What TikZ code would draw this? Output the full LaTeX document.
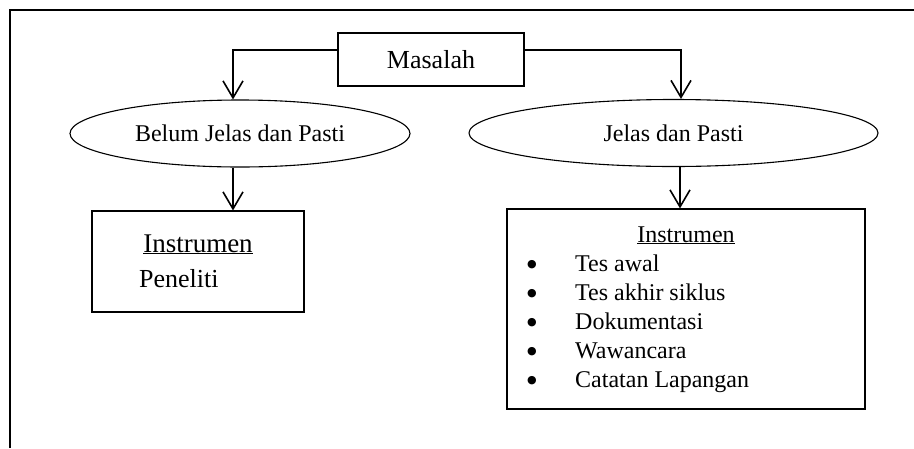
\documentclass[tikz,border=0pt]{standalone}
\usepackage{fontspec}
\setmainfont{Liberation Serif}
\newfontfamily\simbol{DejaVu Sans}
\usetikzlibrary{shapes.geometric,arrows.meta}
\tikzset{
  arr/.style={line width=1.6pt,-{Straight Barb[length=17pt,width=20pt,line width=1.6pt]}},
  kotak/.style={draw,line width=1.1pt,inner sep=0pt},
  elips/.style={draw,ellipse,line width=1.1pt,inner sep=0pt,minimum height=67pt},
  teks/.style={inner sep=0pt,anchor=base}
}
\begin{document}
\begin{tikzpicture}[x=1pt,y=-1pt]
\useasboundingbox (0,0) rectangle (914,448);
% bingkai luar
\draw[line width=2pt] (10,448) -- (10,10) -- (914,10);
% masalah
\node[kotak,minimum width=186pt,minimum height=53pt,font=\fontsize{26}{30}\selectfont] (masalah) at (431,59.5) {Masalah};
\node[elips,minimum width=340pt,font=\fontsize{24}{28}\selectfont] (belum) at (240,133.5) {Belum Jelas dan Pasti};
\node[elips,minimum width=409pt,font=\fontsize{24}{28}\selectfont] (jelas) at (673.5,133) {Jelas dan Pasti};
% instrumen
\node[kotak,minimum width=212pt,minimum height=101pt] (instA) at (198,261.5) {};
\node[kotak,minimum width=358pt,minimum height=200pt] (instB) at (686,309) {};
\node[teks,font=\fontsize{27}{32}\selectfont] (judulA) at (198,252) {\underline{Instrumen}};
\node[teks,anchor=base west,font=\fontsize{26}{31}\selectfont] (peneliti) at (139,287) {Peneliti};
\node[teks,font=\fontsize{24}{29}\selectfont] (judulB) at (686,242) {\underline{Instrumen}};
\foreach \t [count=\i] in {Tes awal,Tes akhir siklus,Dokumentasi,Wawancara,Catatan Lapangan} {
  \node[inner sep=0pt,font=\simbol\fontsize{11}{11}\selectfont] (b\i) at (532,236+29*\i) {●};
  \node[teks,anchor=base west,font=\fontsize{24}{29}\selectfont] (item\i) at (575,242+29*\i) {\t};
}
% panah
\draw[arr] ([yshift=9.5pt]masalah.west) -| ([xshift=-7pt]belum.north);
\draw[arr] ([yshift=9.5pt]masalah.east) -| ([xshift=7.5pt]jelas.north);
\draw[arr] ([xshift=-7pt]belum.south) -- ([xshift=-7pt]belum.south |- instA.north);
\draw[arr] ([xshift=6.5pt]jelas.south) -- ([xshift=6.5pt]jelas.south |- instB.north);
\end{tikzpicture}
\end{document}
